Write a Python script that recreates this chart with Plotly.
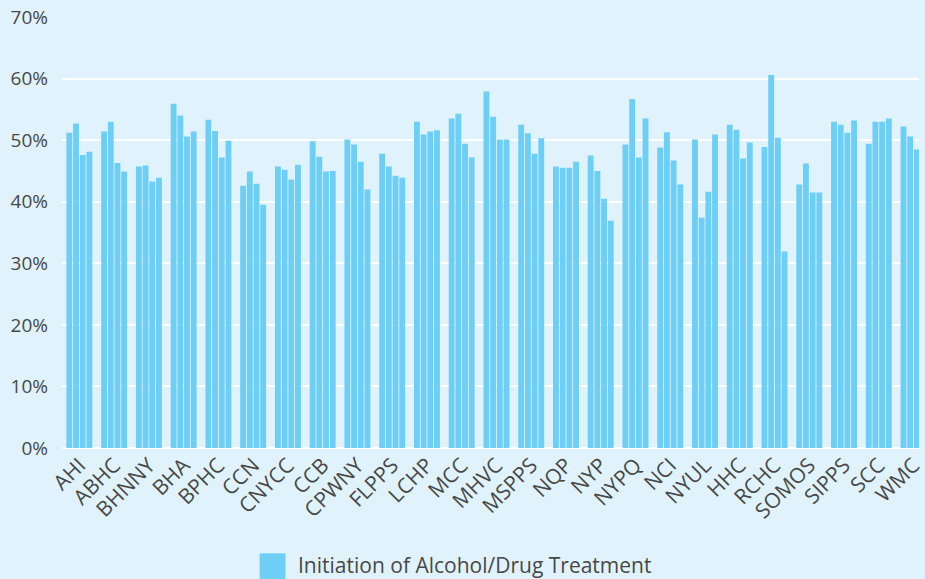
import plotly.graph_objects as go

# Organisations (x axis)
orgs = ['AHI', 'ABHC', 'BHNNY', 'BHA', 'BPHC', 'CCN', 'CNYCC', 'CCB', 'CPWNY',
        'FLPPS', 'LCHP', 'MCC', 'MHVC', 'MSPPS', 'NQP', 'NYP', 'NYPQ', 'NCI',
        'NYUL', 'HHC', 'RCHC', 'SOMOS', 'SIPPS', 'SCC', 'WMC']

# Four measurement periods per organisation (percent)
period_1 = [51.2, 51.4, 45.7, 55.9, 53.3, 42.6, 45.7, 49.8, 50.1, 47.8, 53.0, 53.5, 57.9,
            52.5, 45.7, 47.5, 49.3, 48.8, 50.1, 52.5, 48.9, 42.8, 53.0, 49.4, 52.2]
period_2 = [52.7, 53.0, 45.9, 54.0, 51.5, 44.9, 45.2, 47.3, 49.3, 45.7, 50.9, 54.3, 53.8,
            51.1, 45.5, 45.0, 56.7, 51.3, 37.4, 51.7, 60.6, 46.2, 52.5, 53.0, 50.6]
period_3 = [47.6, 46.3, 43.3, 50.6, 47.2, 42.9, 43.6, 44.9, 46.5, 44.2, 51.4, 49.4, 50.1,
            47.8, 45.5, 40.5, 47.2, 46.7, 41.6, 47.0, 50.4, 41.5, 51.2, 53.0, 48.5]
period_4 = [48.1, 44.9, 43.9, 51.4, 49.9, 39.5, 46.0, 45.0, 42.0, 43.9, 51.6, 47.2, 50.1,
            50.3, 46.5, 36.9, 53.5, 42.8, 50.9, 49.6, 31.9, 41.5, 53.2, 53.5, 49.0]

legend_label = 'Initiation of Alcohol/Drug Treatment'
bar_color = '#6DCFF6'
bg_color = '#E0F3FC'
text_color = '#484848'
font_family = '"Open Sans", Lato, sans-serif'

fig = go.Figure()
for vals in [period_1, period_2, period_3, period_4]:
    fig.add_trace(go.Bar(
        x=orgs,
        y=[v / 100 for v in vals],
        name=legend_label,
        marker=dict(color=bar_color, line=dict(width=0)),
        showlegend=False,
    ))

# plot area: left 62px, right edge at window edge, 35px per category
plot_w = 925 - 62
n_visible = plot_w / 35.0

fig.update_layout(
    width=925,
    height=579,
    margin=dict(l=62, r=0, t=17, b=131),
    paper_bgcolor=bg_color,
    plot_bgcolor=bg_color,
    barmode='group',
    bargap=0.23,
    bargroupgap=0.12,
    font=dict(family=font_family, size=19, color=text_color),
    xaxis=dict(
        range=[-0.5, -0.5 + n_visible],
        tickangle=-45,
        showgrid=False,
        showline=False,
        ticks='',
        tickfont=dict(size=21, color=text_color),
        fixedrange=True,
    ),
    yaxis=dict(
        range=[0, 0.7],
        dtick=0.1,
        tickformat='.0%',
        showgrid=True,
        gridcolor='white',
        gridwidth=2,
        zeroline=True,
        zerolinecolor='white',
        zerolinewidth=2,
        showline=False,
        ticks='',
        ticklabelstandoff=13,
        tickfont=dict(size=19, color=text_color),
        fixedrange=True,
    ),
)

# legend drawn as a swatch + label below the axis
x_px = lambda px: (px - 62) / plot_w
y_px = lambda py: (447.8 - py) / 430.5
fig.add_shape(type='rect', xref='paper', yref='paper',
              x0=x_px(261), x1=x_px(287), y0=y_px(553), y1=y_px(582),
              fillcolor=bar_color, line=dict(width=0))
fig.add_annotation(text=legend_label, xref='paper', yref='paper',
                   x=x_px(298), y=y_px(565), xanchor='left', yanchor='middle',
                   showarrow=False, font=dict(size=21, color=text_color))

fig.write_html("out.html", config={'displayModeBar': False})

# drop the default page margin so the figure fills the window
with open("out.html") as f:
    page = f.read()
page = page.replace("<head>", "<head><style>body{margin:0;overflow:hidden;}</style>", 1)
with open("out.html", "w") as f:
    f.write(page)
